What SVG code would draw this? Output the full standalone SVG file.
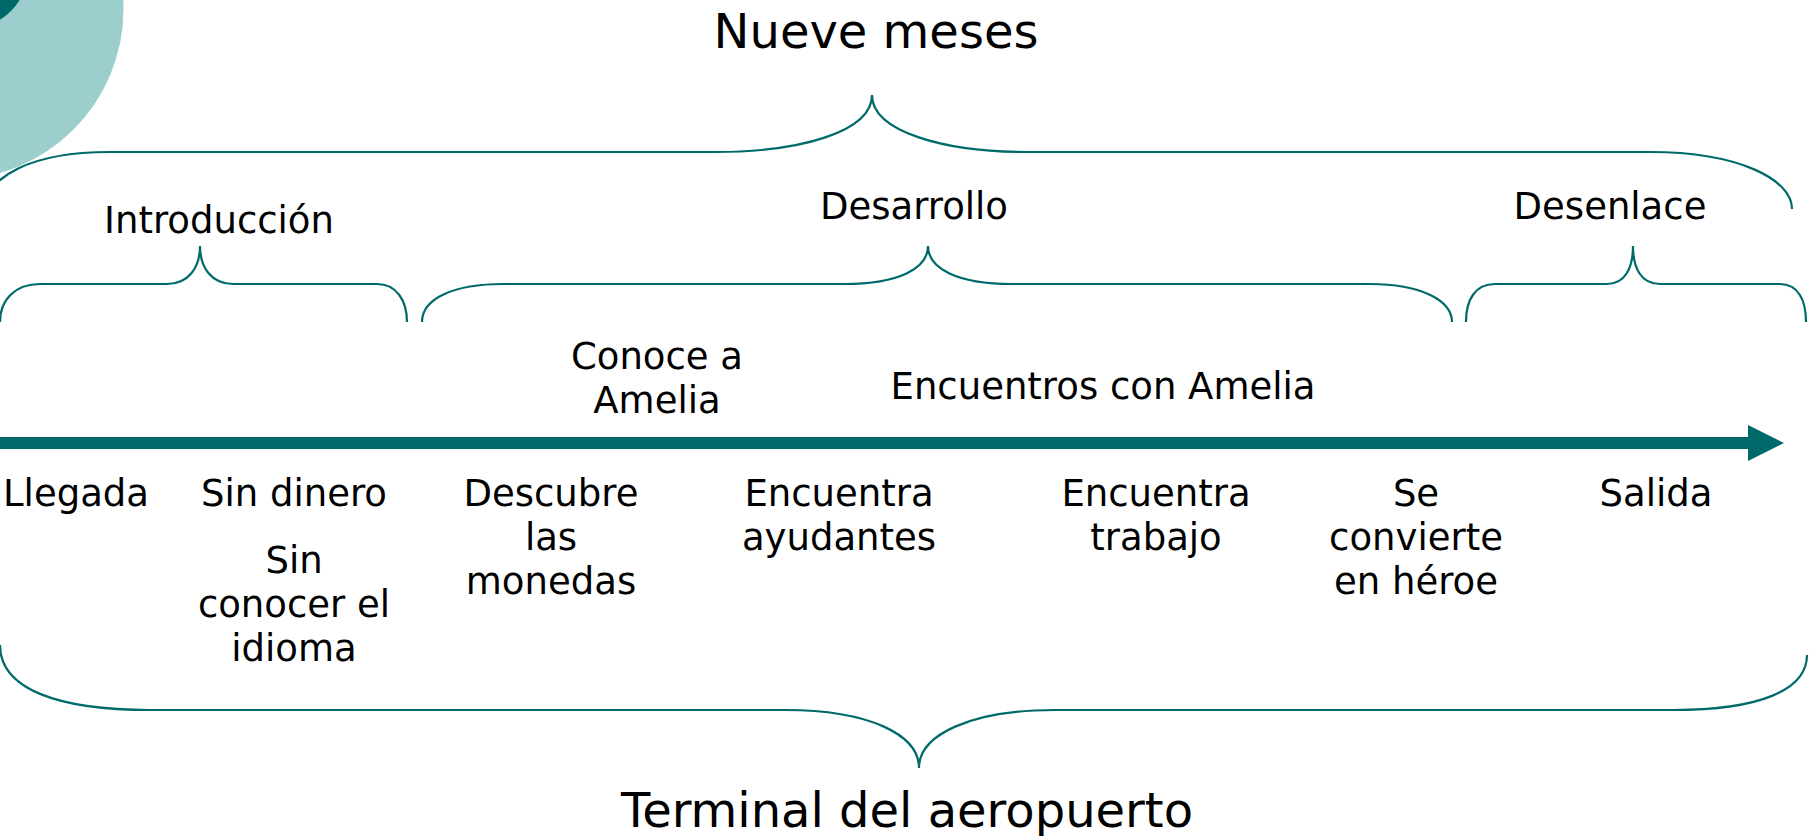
<svg xmlns="http://www.w3.org/2000/svg" width="1809" height="836" viewBox="0 0 1809 836">
<style>
.t{font-family:"DejaVu Sans","Liberation Sans",sans-serif;font-size:37px;fill:#000;text-anchor:middle}
.big{font-size:48px}
.br{fill:none;stroke:#006A6A;stroke-width:2.2}
</style>
<defs>
<marker id="ah" viewBox="0 0 36 36" refX="0" refY="18" markerWidth="36" markerHeight="36" markerUnits="userSpaceOnUse" orient="auto">
<path d="M0,0 L36,18 L0,36 Z" fill="#006A6A"/>
</marker>
</defs>
<rect width="1809" height="836" fill="#fff"/>
<g id="decor">
<circle cx="-47" cy="9" r="170.5" fill="#9CCECE"/>
<circle cx="-30" cy="-30" r="58" fill="#006A6A"/>
</g>
<g id="connectors">
<path class="br" d="M-25,215 C-10,175 30,152 110,152 L715,152 C800,152 872,132 872,95 C872,132 945,152 1027,152 L1650,152 C1740,152 1792,180 1792,209"/>
<path class="br" d="M0,322 C0,300 15,284 40,284 L167,284 C188,284 200,268 200,246 C200,268 212,284 233,284 L377,284 C396,284 407,300 407,322"/>
<path class="br" d="M422,322 C422,298 455,284 503,284 L844,284 C900,284 928,268 928,246 C928,268 956,284 1012,284 L1370,284 C1420,284 1452,300 1452,322"/>
<path class="br" d="M1466,322 C1466,300 1475,284 1495,284 L1607,284 C1625,284 1633,268 1633,246 C1633,268 1641,284 1660,284 L1780,284 C1798,284 1806,300 1806,322"/>
<path class="br" d="M0,645 C0,690 60,710 150,710 L785,710 C870,710 919,735 919,768 C919,735 970,710 1055,710 L1673,710 C1760,710 1807,690 1807,655"/>
<line x1="0" y1="443" x2="1748" y2="443" stroke="#006A6A" stroke-width="12" marker-end="url(#ah)"/>
</g>
<g id="n-nueve"><text class="t big" x="876" y="48">Nueve meses</text></g>
<g id="n-terminal"><text class="t big" x="907" y="827">Terminal del aeropuerto</text></g>
<g id="n-intro"><text class="t" x="219" y="233">Introducción</text></g>
<g id="n-desarrollo"><text class="t" x="914" y="219">Desarrollo</text></g>
<g id="n-desenlace"><text class="t" x="1610" y="219">Desenlace</text></g>
<g id="n-conoce"><text class="t" x="657" y="369">Conoce a</text><text class="t" x="657" y="413">Amelia</text></g>
<g id="n-encuentros"><text class="t" x="1103" y="399">Encuentros con Amelia</text></g>
<g id="n-llegada"><text class="t" x="76" y="506">Llegada</text></g>
<g id="n-sindinero"><text class="t" x="294" y="506">Sin dinero</text></g>
<g id="n-sinconocer"><text class="t" x="294" y="573">Sin</text><text class="t" x="294" y="617">conocer el</text><text class="t" x="294" y="661">idioma</text></g>
<g id="n-descubre"><text class="t" x="551" y="506">Descubre</text><text class="t" x="551" y="550">las</text><text class="t" x="551" y="594">monedas</text></g>
<g id="n-ayudantes"><text class="t" x="839" y="506">Encuentra</text><text class="t" x="839" y="550">ayudantes</text></g>
<g id="n-trabajo"><text class="t" x="1156" y="506">Encuentra</text><text class="t" x="1156" y="550">trabajo</text></g>
<g id="n-heroe"><text class="t" x="1416" y="506">Se</text><text class="t" x="1416" y="550">convierte</text><text class="t" x="1416" y="594">en héroe</text></g>
<g id="n-salida"><text class="t" x="1656" y="506">Salida</text></g>
</svg>
